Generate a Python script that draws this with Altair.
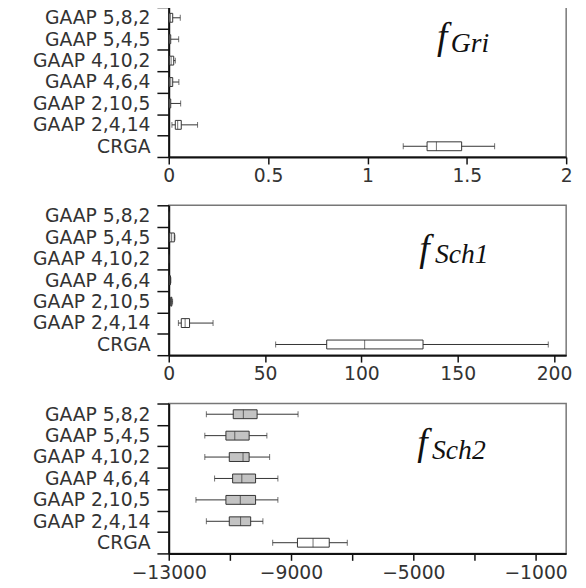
import altair as alt
import pandas as pd

categories = ["GAAP 5,8,2", "GAAP 5,4,5", "GAAP 4,10,2", "GAAP 4,6,4",
              "GAAP 2,10,5", "GAAP 2,4,14", "CRGA"]

# f_Gri
gri_low = [0.0, 0.0, 0.0, 0.0, 0.0, 0.016, 1.18]
gri_q1 = [0.002, 0.002, 0.004, 0.003, 0.002, 0.033, 1.30]
gri_med = [0.008, 0.005, 0.012, 0.010, 0.005, 0.045, 1.347]
gri_q3 = [0.020, 0.010, 0.025, 0.020, 0.010, 0.063, 1.474]
gri_high = [0.058, 0.050, 0.033, 0.051, 0.060, 0.145, 1.64]

# f_Sch1
sch1_low = [0.0, 0.0, 0.0, 0.3, 0.8, 5.0, 55.5]
sch1_q1 = [0.0, 0.5, 0.0, 0.5, 1.0, 6.5, 82.0]
sch1_med = [0.0, 1.5, 0.0, 0.7, 1.3, 8.5, 101.7]
sch1_q3 = [0.0, 2.9, 0.0, 0.9, 1.6, 10.8, 132.0]
sch1_high = [0.1, 3.2, 0.1, 1.1, 2.0, 23.0, 197.0]

# f_Sch2
sch2_low = [-11770, -11820, -11820, -11500, -12110, -11770, -9600]
sch2_q1 = [-10890, -11130, -11020, -10910, -11130, -11020, -8790]
sch2_med = [-10560, -10840, -10570, -10610, -10660, -10650, -8280]
sch2_q3 = [-10110, -10370, -10370, -10160, -10160, -10320, -7750]
sch2_high = [-8770, -9790, -9700, -9430, -9430, -9920, -7160]

gri_ticks = [0, 0.5, 1, 1.5, 2]
sch1_ticks = [0, 50, 100, 150, 200]
sch2_ticks = list(range(-13000, 1, 1000))
sch2_labels = [-13000, -9000, -5000, -1000]

W, H = 403, 152
INK = "#333333"
LABEL_FONT = "DejaVu Sans"
FS = 19


def panel(low, q1, med, q3, high, domain, ticks, fmt, label_expr, gray,
          sub, fx, subx, fy, suby):
    df = pd.DataFrame({"cat": categories, "low": low, "q1": q1,
                       "med": med, "q3": q3, "high": high})
    y = alt.Y("cat:N", sort=categories,
              scale=alt.Scale(paddingInner=0, paddingOuter=0),
              axis=alt.Axis(title=None, tickBand="extent", tickSize=12,
                            labelFont=LABEL_FONT, labelFontSize=FS,
                            labelColor=INK, labelPadding=7,
                            minExtent=157, maxExtent=157,
                            domainColor="#111", domainWidth=2,
                            tickColor="#111", tickWidth=1.5))
    axis_kw = dict(title=None, values=ticks, format=fmt, tickSize=7,
                   labelFont=LABEL_FONT, labelFontSize=FS, labelColor=INK,
                   labelPadding=3, domainColor="#111", domainWidth=2,
                   tickColor="#111", tickWidth=1.5, grid=False,
                   minExtent=30, maxExtent=30, labelFlush=False)
    if label_expr:
        axis_kw["labelExpr"] = label_expr
    x = alt.X("low:Q", scale=alt.Scale(domain=domain, nice=False, zero=False),
              axis=alt.Axis(**axis_kw))
    base = alt.Chart(df)
    rule = base.mark_rule(color=INK, strokeWidth=1).encode(x=x, x2="high:Q", y=y)
    cap_lo = base.mark_tick(orient="vertical", size=6, thickness=1, color=INK).encode(
        x="low:Q", y=alt.Y("cat:N", sort=categories))
    cap_hi = base.mark_tick(orient="vertical", size=6, thickness=1, color=INK).encode(
        x="high:Q", y=alt.Y("cat:N", sort=categories))
    if gray:
        fill = alt.condition(alt.datum.cat == "CRGA", alt.value("white"), alt.value("#c3c3c3"))
    else:
        fill = alt.value("white")
    box = base.mark_bar(size=9, stroke=INK, strokeWidth=1).encode(
        x="q1:Q", x2="q3:Q", y=alt.Y("cat:N", sort=categories), fill=fill)
    medt = base.mark_tick(orient="vertical", size=9, thickness=1, color=INK).encode(
        x="med:Q", y=alt.Y("cat:N", sort=categories))
    ftxt = alt.Chart(pd.DataFrame({"t": ["f"]})).mark_text(
        font="Liberation Serif", fontStyle="italic", fontSize=38, align="left",
        baseline="alphabetic", color="#111").encode(
        text="t:N", x=alt.value(fx), y=alt.value(fy))
    stxt = alt.Chart(pd.DataFrame({"t": [sub]})).mark_text(
        font="Liberation Serif", fontStyle="italic", fontSize=28, align="left",
        baseline="alphabetic", color="#111").encode(
        text="t:N", x=alt.value(subx), y=alt.value(suby))
    return alt.layer(rule, cap_lo, cap_hi, box, medt, ftxt, stxt).properties(
        width=W, height=H)


p1 = panel(gri_low, gri_q1, gri_med, gri_q3, gri_high, [0, 2], gri_ticks,
           "~g", None, False, "Gri", 272, 286, 42, 46)
p2 = panel(sch1_low, sch1_q1, sch1_med, sch1_q3, sch1_high, [0, 206.3],
           sch1_ticks, "d", None, False, "Sch1", 254, 270, 56, 59)
p3 = panel(sch2_low, sch2_q1, sch2_med, sch2_q3, sch2_high, [-13000, 0],
           sch2_ticks, "d",
           "indexof([-13000, -9000, -5000, -1000], datum.value) >= 0 ? datum.label : ''",
           True, "Sch2", 252, 267, 52, 56)

chart = alt.vconcat(p1, p2, p3, spacing=8).properties(
    padding={"left": 5, "top": -15, "right": 5, "bottom": 0}
).configure_view(stroke="#777777", strokeWidth=1.5)

chart.save("out.html", embed_options={"renderer": "svg", "actions": False})
